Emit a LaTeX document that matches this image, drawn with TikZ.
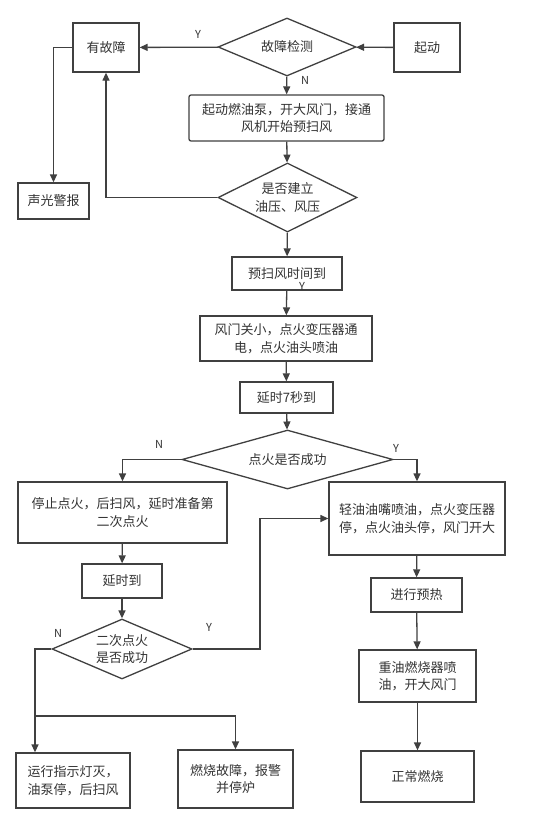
\documentclass[tikz,border=0pt]{standalone}
\usepackage{fontspec}
\setmainfont{Noto Sans CJK SC}
\usetikzlibrary{shapes.geometric,arrows.meta}
\definecolor{ln}{HTML}{404040}
\definecolor{tx}{HTML}{333333}
\begin{document}
\begin{tikzpicture}[x=1pt,y=-1pt,
  every node/.style={text=tx,font=\fontsize{13}{17.5}\selectfont},
  box/.style={draw=ln,line width=1.3pt,rectangle,inner sep=0pt,align=center},
  dia/.style={draw=ln,line width=1.3pt,diamond,inner sep=0pt},
  dtext/.style={inner sep=0pt,align=center},
  lab/.style={font=\fontsize{11}{12}\selectfont,inner sep=0pt},
  arr/.style={draw=ln,line width=1.3pt,-{Triangle[length=8pt,width=7pt]}},
  ln/.style={draw=ln,line width=1.3pt}]
\useasboundingbox[fill=white] (0,0) rectangle (552,827);
\node[box,minimum width=66,minimum height=49] (fault) at (106,47.5) {有故障};
\node[dia,minimum width=138,minimum height=58] (detect) at (287,47) {};
\node[dtext] (detectt) at (detect) {故障检测};
\node[box,minimum width=66,minimum height=49] (start) at (427,47.5) {起动};
\node[box,rounded corners=2pt,minimum width=195,minimum height=46] (b1) at (286.5,118) {起动燃油泵，开大风门，接通\\风机开始预扫风};
\node[dia,minimum width=139,minimum height=69] (d2) at (287.5,197.5) {};
\node[dtext] (d2t) at (d2) {是否建立\\油压、风压};
\node[box,minimum width=71,minimum height=36] (alarm) at (53.5,201) {声光警报};
\node[box,minimum width=110,minimum height=33] (pre) at (287,273.5) {预扫风时间到};
\node[box,minimum width=172,minimum height=45] (damp) at (286,338.5) {风门关小，点火变压器通\\电，点火油头喷油};
\node[box,minimum width=93,minimum height=31] (d7) at (286.5,397.5) {延时7秒到};
\node[dia,minimum width=211,minimum height=59] (d3) at (287.5,459.5) {};
\node[dtext] (d3t) at (d3) {点火是否成功};
\node[box,minimum width=209,minimum height=61] (stop) at (122.5,512.5) {停止点火，后扫风，延时准备第\\二次点火};
\node[box,minimum width=176,minimum height=73,align=left] (light) at (417,518.5) {轻油油嘴喷油，点火变压器\\停，点火油头停，风门开大};
\node[box,minimum width=80,minimum height=34] (delay) at (122,581) {延时到};
\node[dia,minimum width=140,minimum height=60] (d4) at (122,649) {};
\node[dtext] (d4t) at (d4) {二次点火\\是否成功};
\node[box,minimum width=114,minimum height=55,align=left] (run) at (73,780.5) {运行指示灯灭，\\油泵停，后扫风};
\node[box,minimum width=115,minimum height=58] (bf) at (235.5,779) {燃烧故障，报警\\并停炉};
\node[box,minimum width=91,minimum height=34] (heat) at (416.5,595) {进行预热};
\node[box,minimum width=117,minimum height=52] (heavy) at (417.5,676) {重油燃烧器喷\\油，开大风门};
\node[box,minimum width=113,minimum height=51] (normal) at (417.5,776.5) {正常燃烧};
\coordinate (ret) at (260,649);
\coordinate (nbr) at (35,716);
% connectors
\draw[arr] (start) -- (detect);
\draw[arr] (detect) -- (fault);
\draw[arr] (detect) -- (b1);
\draw[arr] (b1) -- (d2);
\draw[arr] (fault.west) -| (alarm.north);
\draw[arr] (d2.west) -| (fault.south);
\draw[arr] (d2) -- (pre);
\draw[arr] (pre) -- (damp);
\draw[arr] (damp) -- (d7);
\draw[arr] (d7) -- (d3);
\draw[arr] (d3.west) -| (stop.north);
\draw[arr] (d3.east) -| (light.north);
\draw[arr] (stop) -- (delay);
\draw[arr] (delay) -- (d4);
\draw[arr] (d4.east) -- (ret) |- (light.west);
\draw[ln] (d4.west) -| (nbr);
\draw[arr] (nbr) -- (nbr |- run.north);
\draw[arr] (nbr) -| (bf.north);
\draw[arr] (light) -- (heat);
\draw[arr] (heat) -- (heavy);
\draw[arr] (heavy) -- (normal);
% labels
\node[lab] (ly1) at (198,34) {Y};
\node[lab] (ln1) at (305,80) {N};
\node[lab] (ly2) at (302,286) {Y};
\node[lab] (ln3) at (159,444) {N};
\node[lab] (ly3) at (396,448) {Y};
\node[lab] (ln4) at (58,633) {N};
\node[lab] (ly4) at (209,627) {Y};
\end{tikzpicture}
\end{document}
